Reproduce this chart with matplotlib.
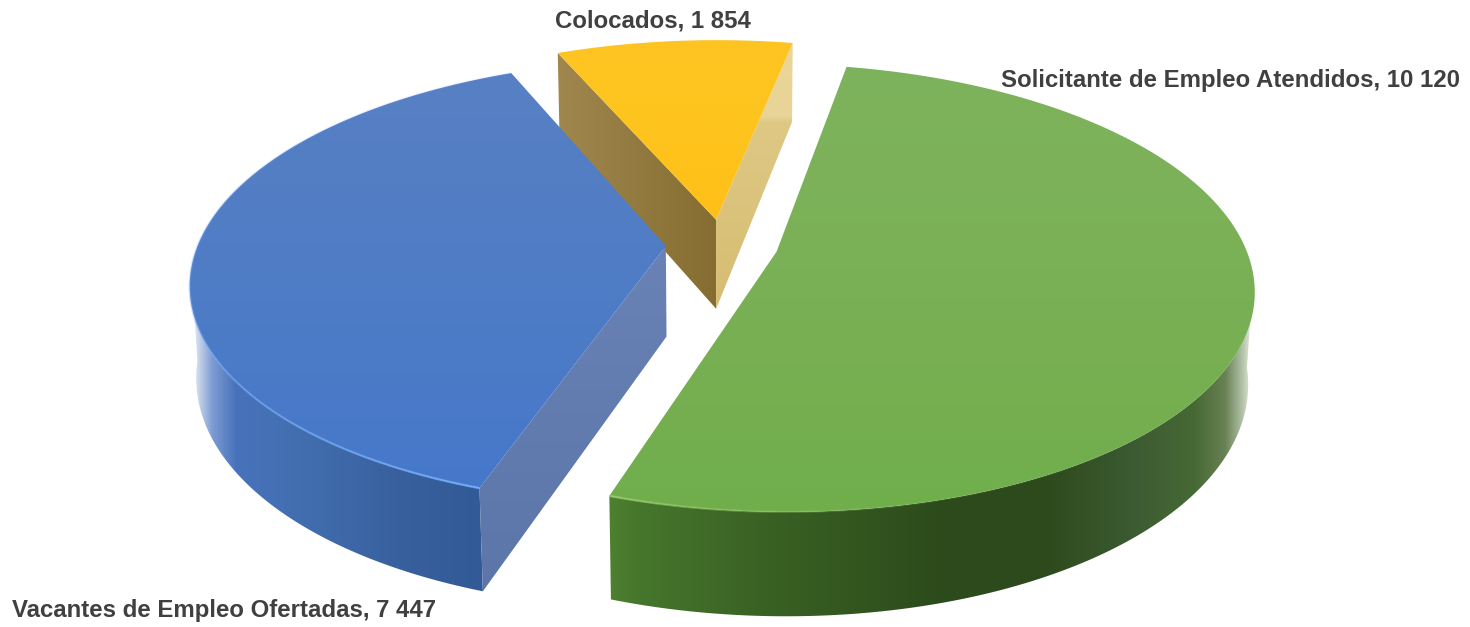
import numpy as np
import matplotlib
matplotlib.use("Agg")
import matplotlib.pyplot as plt
from matplotlib.collections import LineCollection
from matplotlib.patches import Polygon

labels = ["Solicitante de Empleo Atendidos", "Vacantes de Empleo Ofertadas", "Colocados"]
values = [10120, 7447, 1854]

# top surface colours, along y
top_y = [[65, 300, 510], [72, 300, 490], [40, 120, 215]]
top_rgb = [
    [(126, 179, 93), (122, 176, 85), (112, 174, 76)],
    [(88, 128, 196), (78, 124, 198), (70, 120, 202)],
    [(254, 196, 34), (254, 196, 30), (254, 192, 24)],
]
# outer wall colours, along x
wall_x = [
    [610, 640, 760, 950, 1050, 1130, 1195, 1226, 1243, 1253],
    [192, 200, 212, 235, 300, 400, 480],
    [550, 800],
]
wall_rgb = [
    [(78, 128, 48), (70, 118, 44), (58, 98, 36), (44, 74, 27), (45, 75, 28), (60, 90, 50),
     (70, 105, 52), (105, 130, 85), (180, 195, 170), (235, 240, 232)],
    [(235, 240, 248), (190, 205, 230), (125, 155, 210), (72, 115, 188), (66, 110, 176), (56, 96, 157), (50, 90, 150)],
    [(150, 125, 65), (150, 125, 65)],
]
rim_rgb = [(150, 205, 110), (120, 175, 250)]

# big blue cut face, two yellow cut faces
cut_blue_y = [240, 590]
cut_blue_rgb = [(106, 130, 182), (92, 118, 170)]
cut_yl_x = [558, 717]
cut_yl_rgb = [(160, 135, 78), (133, 108, 48)]
cut_yr_y = [40, 116, 122, 320]
cut_yr_rgb = [(234, 214, 152), (232, 212, 150), (222, 200, 132), (214, 188, 112)]

label_x = [1001, 12, 555]
label_y = [81, 611, 21]

# camera of the 3d pie
cx, cy = 722, 245
R, S, D = 468, 216, 91.5
k, m = 0.161, 0.012
explode = 0.12
start_angle = -79


def project(u, v, z=0.0):
    w = 1 - k * v + m * z
    return cx + R * u / w, cy + (S * v + D * z) / w


def lerp_rgb(pos, stops, colors):
    c = np.array(colors, dtype=float) / 255
    return np.stack([np.interp(pos, stops, c[:, i]) for i in range(3)], axis=-1)


def gradient_fill(ax, pts, stops, colors, along, zorder):
    x0, x1 = pts[:, 0].min() - 2, pts[:, 0].max() + 2
    y0, y1 = pts[:, 1].min() - 2, pts[:, 1].max() + 2
    if along == "y":
        pos = np.linspace(y0, y1, 512)
        rgb = lerp_rgb(pos, stops, colors)[:, None, :]
    else:
        pos = np.linspace(x0, x1, 512)
        rgb = lerp_rgb(pos, stops, colors)[None, :, :]
    im = ax.imshow(rgb, extent=(x0, x1, y1, y0), aspect="auto", zorder=zorder, interpolation="bilinear")
    im.set_clip_path(Polygon(pts, closed=True, transform=ax.transData))


def face(du, dv, u1, v1):
    return np.array([project(du, dv, 0), project(u1, v1, 0), project(u1, v1, 1), project(du, dv, 1)])


fig = plt.figure(figsize=(14.7, 6.27), dpi=100)
ax = fig.add_axes([0, 0, 1, 1])

fractions = np.array(values) / sum(values)
edges = start_angle + np.concatenate([[0], np.cumsum(fractions) * 360])
order = [2, 1, 0]  # far slice first

for i in order:
    a0, a1 = edges[i], edges[i + 1]
    mid = np.radians((a0 + a1) / 2)
    du, dv = explode * np.cos(mid), explode * np.sin(mid)
    th = np.radians(np.linspace(a0, a1, 360))
    u, v = du + np.cos(th), dv + np.sin(th)
    base = 100 * (3 - i)

    # outer wall, only the part turned to the viewer
    near_side = np.sin(th) > 0.1
    if near_side.any():
        tx0, ty0 = project(u[near_side], v[near_side], 0)
        tx1, ty1 = project(u[near_side], v[near_side], 1)
        wall = np.column_stack([np.append(tx0, tx1[::-1]), np.append(ty0, ty1[::-1])])
        gradient_fill(ax, wall, wall_x[i], wall_rgb[i], "x", base)

    # cut faces that can be seen
    if i == 1:
        gradient_fill(ax, face(du, dv, u[0], v[0]), cut_blue_y, cut_blue_rgb, "y", base + 1)
    if i == 2:
        gradient_fill(ax, face(du, dv, u[0], v[0]), cut_yl_x, cut_yl_rgb, "x", base + 1)
        gradient_fill(ax, face(du, dv, u[-1], v[-1]), cut_yr_y, cut_yr_rgb, "y", base + 1)

    # top
    px, py = project(u, v, 0)
    tx, ty = project(du, dv, 0)
    top = np.column_stack([np.append(px, tx), np.append(py, ty)])
    gradient_fill(ax, top, top_y[i], top_rgb[i], "y", base + 2)

    # light rim on the near edge, strongest next to the cut
    if i < 2:
        near = np.radians(edges[1])
        fade = np.exp(-np.abs(th - near) / np.radians(18 if i == 0 else 60))
        pts = np.column_stack([px, py])
        segs = np.stack([pts[:-1], pts[1:]], axis=1)
        rim = np.array(rim_rgb[i]) / 255
        rgba = np.column_stack([np.tile(rim, (len(segs), 1)), 0.9 * fade[:-1]])
        ax.add_collection(LineCollection(segs, colors=rgba, linewidths=1.6, zorder=base + 3))

for name, val, lx, ly in zip(labels, values, label_x, label_y):
    ax.text(lx, ly, f"{name}, " + f"{val:,}".replace(",", " "),
            family="Liberation Sans", weight="bold", fontsize=17.28, color="#404040",
            ha="left", va="center", zorder=1000)

ax.set_xlim(0, 1470)
ax.set_ylim(627, 0)
ax.axis("off")
fig.savefig("out.png", dpi=100, facecolor="white")
